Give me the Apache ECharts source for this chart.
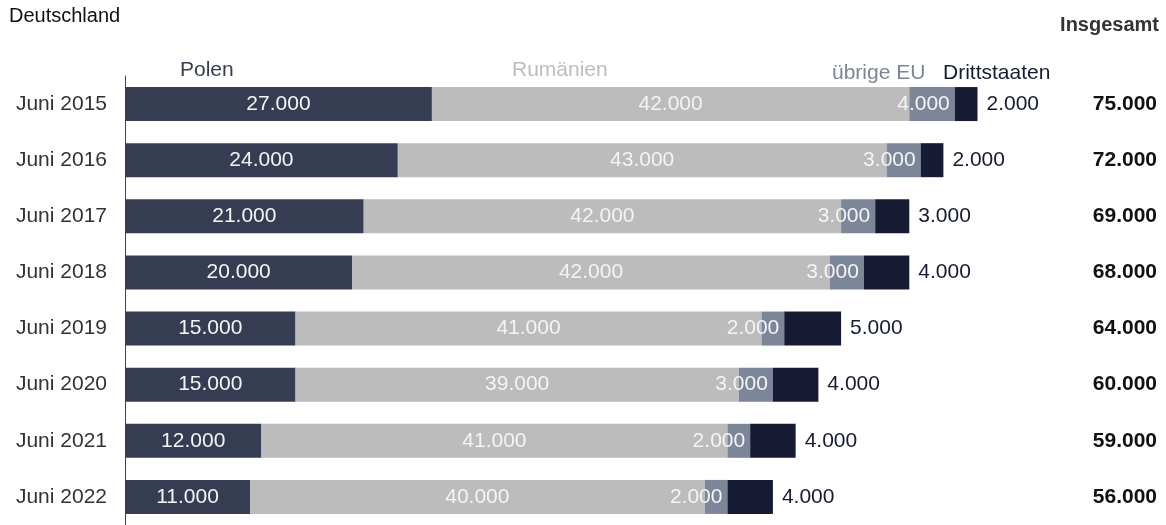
<!DOCTYPE html>
<html>
<head>
<meta charset="utf-8">
<script src="https://cdn.jsdelivr.net/npm/echarts@6/dist/echarts.min.js"></script>
<style>
html,body{margin:0;padding:0;background:#fff;}
#c{width:1166px;height:525px;}
</style>
</head>
<body>
<div id="c"></div>
<script>
const categories = ['Juni 2015','Juni 2016','Juni 2017','Juni 2018','Juni 2019','Juni 2020','Juni 2021','Juni 2022'];
const polen = [27000,24000,21000,20000,15000,15000,12000,11000];
const rumaenien = [42000,43000,42000,42000,41000,39000,41000,40000];
const uebrigeEU = [4000,3000,3000,3000,2000,3000,2000,2000];
const drittstaaten = [2000,2000,3000,4000,5000,4000,4000,4000];
const insgesamt = [75000,72000,69000,68000,64000,60000,59000,56000];

const fmt = v => v.toLocaleString('de-DE');
const FONT = '"Liberation Sans", Arial, sans-serif';
const FS = 21;

const chart = echarts.init(document.getElementById('c'));
function seg(name, data, color, label) {
  return {
    name, type: 'bar', stack: 'total', data, barWidth: 34,
    itemStyle: { color },
    label: Object.assign({ show: true, fontFamily: FONT, fontSize: FS, formatter: p => fmt(p.value) }, label),
    emphasis: { disabled: true }
  };
}
function head(text, pos, color, extra) {
  return Object.assign({ text, padding: 0, textStyle: Object.assign({ fontFamily: FONT, fontSize: FS, fontWeight: 'normal', color }, extra || {}) }, pos);
}
chart.setOption({
  animation: false,
  textStyle: { fontFamily: FONT },
  title: [
    head('Deutschland', { left: 9, top: 6 }, '#111', { fontSize: 20 }),
    head('Insgesamt', { right: 7, top: 15 }, '#333', { fontSize: 20, fontWeight: 'bold' }),
    head('Polen', { left: 180, top: 60 }, '#363d52'),
    head('Rumänien', { left: 512, top: 60 }, '#bcbcbc'),
    head('übrige EU', { left: 832, top: 63 }, '#7d8599'),
    head('Drittstaaten', { left: 943, top: 63 }, '#161b33')
  ],
  grid: { left: 125, right: 18, top: 76, height: 460, containLabel: false },
  xAxis: { type: 'value', min: 0, max: 90000, show: false },
  yAxis: [
    {
      type: 'category', data: categories, inverse: true,
      axisLine: { show: true, lineStyle: { color: '#444', width: 1 } },
      axisTick: { show: false },
      axisLabel: { fontFamily: FONT, fontSize: FS, color: '#333', margin: 18 }
    },
    {
      type: 'category', data: insgesamt.map(fmt), inverse: true, position: 'right',
      axisLine: { show: false }, axisTick: { show: false },
      axisLabel: { fontFamily: FONT, fontSize: FS, fontWeight: 'bold', color: '#111', margin: 9, align: 'right' }
    }
  ],
  series: [
    seg('Polen', polen, '#363d52', { position: 'inside', color: '#f4f4f4' }),
    seg('Rumänien', rumaenien, '#bcbcbc', { position: 'inside', color: '#f4f4f4' }),
    seg('übrige EU', uebrigeEU, '#7d8599', { position: 'insideRight', distance: 5, color: '#f4f4f4' }),
    seg('Drittstaaten', drittstaaten, '#161b33', { position: 'right', distance: 9, color: '#161b33' })
  ]
});
</script>
</body>
</html>
